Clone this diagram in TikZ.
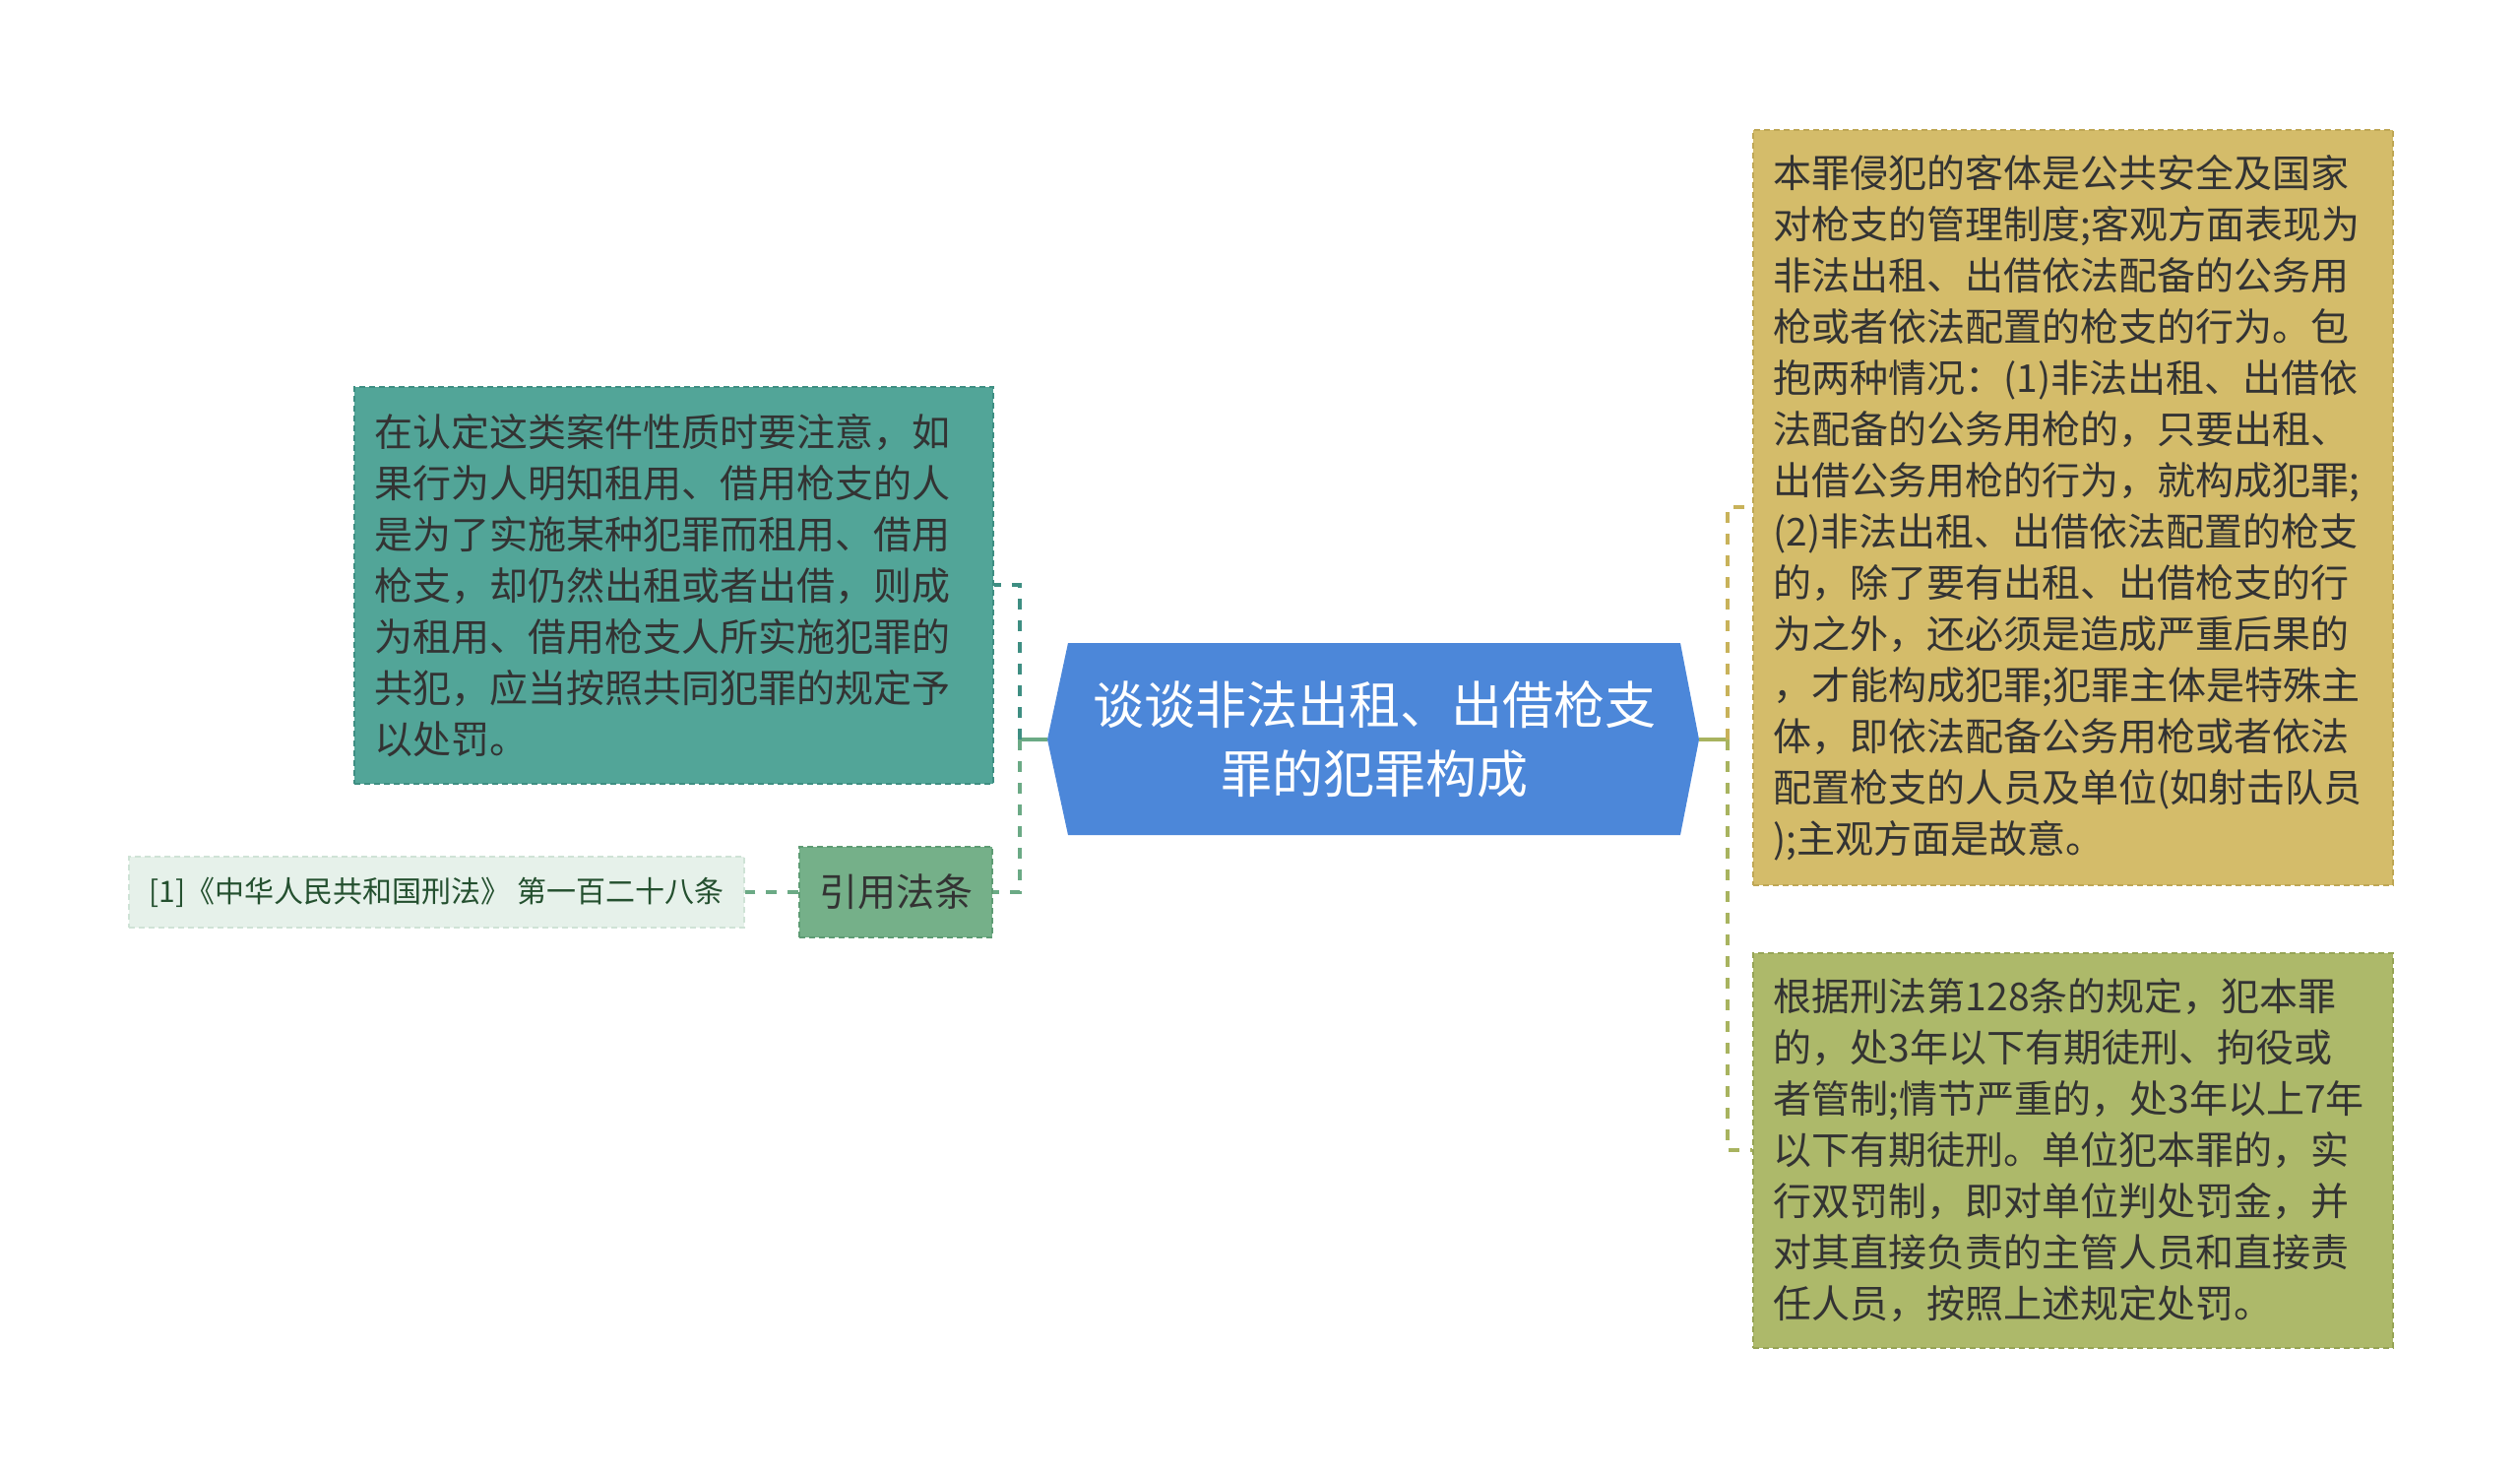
\documentclass[tikz,border=0pt]{standalone}
\usepackage{fontspec}
\newfontfamily\cjk{Noto Sans CJK SC}
\definecolor{rootfill}{HTML}{4C87D9}
\definecolor{tealfill}{HTML}{52A598}
\definecolor{tealline}{HTML}{3E8E82}
\definecolor{greenfill}{HTML}{75B089}
\definecolor{greenline}{HTML}{5E9C74}
\definecolor{greenconn}{HTML}{6BAA85}
\definecolor{citefill}{HTML}{E6F1EA}
\definecolor{citeline}{HTML}{CFE3D6}
\definecolor{citetext}{HTML}{24502F}
\definecolor{yelfill}{HTML}{D4BC6A}
\definecolor{yelline}{HTML}{BFA755}
\definecolor{yelconn}{HTML}{C8B25A}
\definecolor{olvfill}{HTML}{ADB96A}
\definecolor{olvline}{HTML}{97A456}
\definecolor{olvconn}{HTML}{A8B35F}
\definecolor{textdark}{HTML}{333333}
\begin{document}
\begin{tikzpicture}[x=1pt,y=-1pt,
  body/.style={font=\cjk\fontsize{39pt}{52pt}\selectfont, text=textdark, align=left,
    inner xsep=21pt, inner ysep=0pt, anchor=north west, line width=1.5pt,
    dash pattern=on 6pt off 4pt},
  conn/.style={line width=4pt, dash pattern=on 11pt off 11pt},
  solidconn/.style={line width=4pt}
]
\useasboundingbox (0,0) rectangle (2560,1500);
\fill[white] (0,0) rectangle (2560,1500);

% root
\fill[rootfill] (1064,751) -- (1085,653) -- (1707,653) -- (1726,751) -- (1707,848) -- (1085,848) -- cycle;
\coordinate (rootL) at (1064,751);
\coordinate (rootR) at (1726,751);
\node[font=\cjk\fontsize{52pt}{70pt}\selectfont, text=white, align=center, inner sep=0pt] (root) at (1396,751)
  {谈谈非法出租、出借枪支\\罪的犯罪构成};

% left boxes
\node[body, draw=tealline, fill=tealfill, text width=607pt, minimum width=649pt, minimum height=403pt] (b1) at (359,392)
  {在认定这类案件性质时要注意，如\\
   果行为人明知租用、借用枪支的人\\
   是为了实施某种犯罪而租用、借用\\
   枪支，却仍然出租或者出借，则成\\
   为租用、借用枪支人所实施犯罪的\\
   共犯，应当按照共同犯罪的规定予\\
   以处罚。};

\node[draw=greenline, fill=greenfill, line width=1.5pt, dash pattern=on 6pt off 4pt,
  font=\cjk\fontsize{39pt}{52pt}\selectfont, text=textdark, minimum width=196pt, minimum height=92pt, inner sep=0pt] (ref) at (910,906) {引用法条};

\node[draw=citeline, fill=citefill, line width=1.5pt, dash pattern=on 6pt off 4pt,
  font=\cjk\fontsize{30pt}{36pt}\selectfont, text=citetext, minimum width=625pt, minimum height=72pt, inner sep=0pt] (cite) at (443.5,906) {[1]《中华人民共和国刑法》 第一百二十八条};

% right boxes
\node[body, draw=yelline, fill=yelfill, text width=608pt, minimum width=650pt, minimum height=767pt] (b2) at (1780,131)
  {本罪侵犯的客体是公共安全及国家\\
   对枪支的管理制度;客观方面表现为\\
   非法出租、出借依法配备的公务用\\
   枪或者依法配置的枪支的行为。包\\
   抱两种情况：(1)非法出租、出借依\\
   法配备的公务用枪的，只要出租、\\
   出借公务用枪的行为，就构成犯罪;\\
   (2)非法出租、出借依法配置的枪支\\
   的，除了要有出租、出借枪支的行\\
   为之外，还必须是造成严重后果的\\
   ，才能构成犯罪;犯罪主体是特殊主\\
   体，即依法配备公务用枪或者依法\\
   配置枪支的人员及单位(如射击队员\\
   );主观方面是故意。};

\node[body, draw=olvline, fill=olvfill, text width=608pt, minimum width=650pt, minimum height=401pt] (b3) at (1780,967)
  {根据刑法第128条的规定，犯本罪\\
   的，处3年以下有期徒刑、拘役或\\
   者管制;情节严重的，处3年以上7年\\
   以下有期徒刑。单位犯本罪的，实\\
   行双罚制，即对单位判处罚金，并\\
   对其直接负责的主管人员和直接责\\
   任人员，按照上述规定处罚。};

% connectors
\coordinate (jL) at (1036,751);
\coordinate (jR) at (1755,751);
\draw[solidconn, greenconn] (rootL) -- (jL);
\draw[conn, tealline] (jL) |- (b1.east);
\draw[conn, greenconn] (jL) |- (ref.east);
\draw[conn, greenconn] (ref.west) -- (cite.east);
\draw[solidconn, olvconn] (rootR) -- (jR);
\draw[conn, yelconn] (jR) |- (b2.west);
\draw[conn, olvconn] (jR) |- (b3.west);
\end{tikzpicture}
\end{document}
